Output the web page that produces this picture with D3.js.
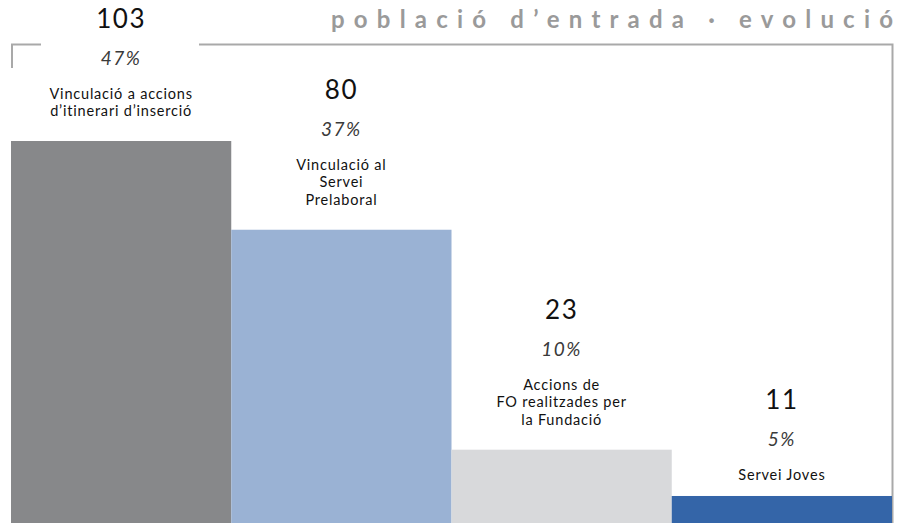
<!DOCTYPE html>
<html lang='ca'>
<head>
<meta charset='utf-8'>
<title>població d'entrada · evolució</title>
<script src='https://d3js.org/d3.v7.min.js'></script>
<style>
  body { margin: 0; background: #fff; }
  text { font-family: Lato, 'Open Sans', sans-serif; }
</style>
</head>
<body>
<script>
'use strict'
// data
const categories = [
  ['Vinculació a accions', 'd\u2019itinerari d\u2019inserció'],
  ['Vinculació al', 'Servei', 'Prelaboral'],
  ['Accions de', 'FO realitzades per', 'la Fundació'],
  ['Servei Joves']
]
const values = [103, 80, 23, 11]
const percents = ['47%', '37%', '10%', '5%']
const colors = ['#87888a', '#9ab2d4', '#d8d9db', '#3465a8']
const title = 'població d\u2019entrada · evolució'

const width = 897
const height = 523

const svg = d3.select('body').append('svg')
  .attr('width', width)
  .attr('height', height)

const x = d3.scaleBand()
  .domain(d3.range(values.length))
  .range([11, 892])
  .padding(0)

const y = d3.scaleLinear()
  .domain([4, 103])
  .range([height, 141])

// frame
const frame = svg.append('g')
  .attr('fill', 'none')
  .attr('stroke', '#a9a9a9')
  .attr('stroke-width', 2)
frame.append('path').attr('d', 'M12,68 V44.5 H41')
frame.append('path').attr('d', 'M199,44.5 H892.5 V' + height)

// title
svg.append('text')
  .attr('x', 331)
  .attr('y', 28)
  .attr('textLength', 562)
  .attr('lengthAdjust', 'spacing')
  .attr('font-family', "'Open Sans', sans-serif")
  .attr('font-size', 24)
  .attr('font-weight', 'bold')
  .attr('fill', '#9a9a9a')
  .text(title)

// bars
svg.selectAll('rect.bar')
  .data(values)
  .join('rect')
  .attr('class', 'bar')
  .attr('x', (d, i) => x(i))
  .attr('y', d => y(d))
  .attr('width', x.bandwidth())
  .attr('height', d => height - y(d))
  .attr('fill', (d, i) => colors[i])

// labels above each bar
const groups = svg.selectAll('g.lab')
  .data(values)
  .join('g')
  .attr('class', 'lab')
  .attr('text-anchor', 'middle')
  .attr('transform', (d, i) => 'translate(' + (x(i) + x.bandwidth() / 2) + ',0)')

groups.each(function(d, i) {
  const g = d3.select(this)
  const lines = categories[i]
  const lineH = 17.5
  const last = y(d) - (lines.length === 1 ? 16 : 25)
  const first = last - (lines.length - 1) * lineH
  const pct = first - 34
  const num = pct - 37

  g.append('text')
    .attr('y', num)
    .attr('font-size', 26)
    .attr('letter-spacing', 1.5)
    .attr('fill', '#111')
    .text(d)

  g.append('text')
    .attr('y', pct)
    .attr('font-size', 19)
    .attr('font-style', 'italic')
    .attr('letter-spacing', 1.5)
    .attr('fill', '#3a3a3a')
    .text(percents[i])

  lines.forEach((t, k) => {
    g.append('text')
      .attr('y', first + k * lineH)
      .attr('font-size', 14.5)
      .attr('letter-spacing', 0.8)
      .attr('fill', '#111')
      .text(t)
  })
})
</script>
</body>
</html>
